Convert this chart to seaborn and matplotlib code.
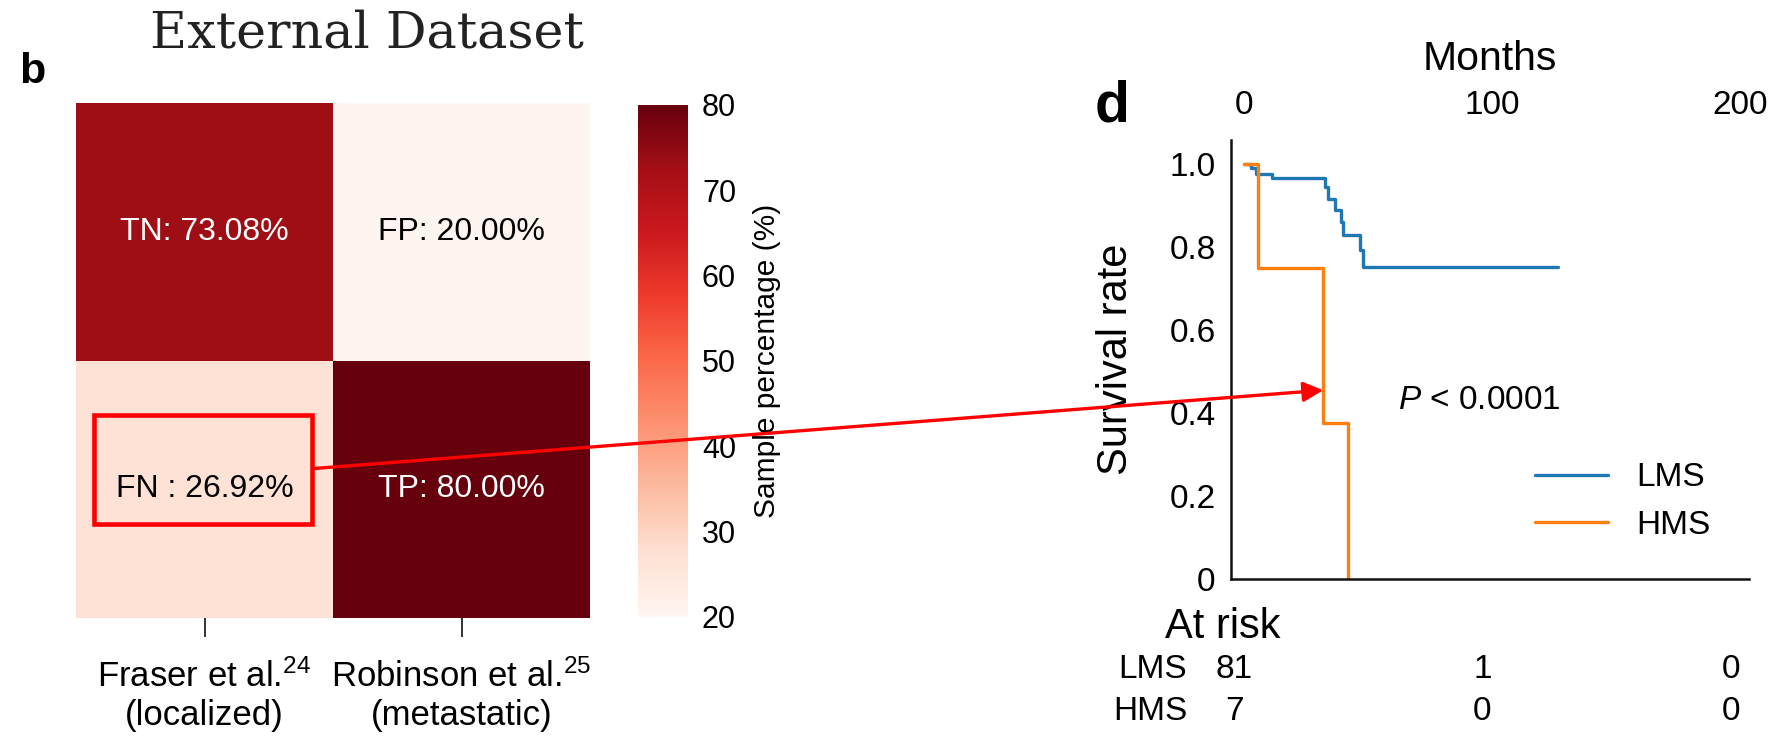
import numpy as np
import pandas as pd
import matplotlib
matplotlib.use("Agg")
import matplotlib.pyplot as plt
import matplotlib.transforms as mtransforms
from matplotlib.patches import Rectangle, ConnectionPatch
import seaborn as sns

# ---- confusion matrix (external dataset) ----
col_labels = ["Fraser et al.$^{\\mathregular{24}}$\n(localized)",
              "Robinson et al.$^{\\mathregular{25}}$\n(metastatic)"]
cell_names = [["TN:", "FP:"], ["FN :", "TP:"]]
cell_pct = [[73.08, 20.00], [26.92, 80.00]]
cbar_ticks = [20, 30, 40, 50, 60, 70, 80]

# ---- Kaplan-Meier curves ----
lms_months = [0, 2.5, 4.8, 11, 32.5, 33.8, 36.5, 38.9, 39.9, 46.6, 47.7, 126.5]
lms_surv = [1.0, 0.99, 0.977, 0.966, 0.944, 0.917, 0.889, 0.861, 0.829, 0.793, 0.753, 0.753]
hms_months = [0, 5.3, 31.8, 41.9]
hms_surv = [1.0, 0.75, 0.375, 0.0]
month_ticks = [0, 100, 200]
surv_ticks = [0, 0.2, 0.4, 0.6, 0.8, 1.0]
surv_ticklabels = ["0", "0.2", "0.4", "0.6", "0.8", "1.0"]
risk_groups = ["LMS", "HMS"]
risk_counts = [[81, 1, 0], [7, 0, 0]]
p_text = "$\\it{P}$ < 0.0001"

sns.set_theme(style="white")
plt.rcParams["font.family"] = ["Liberation Sans", "DejaVu Sans"]
plt.rcParams["mathtext.fontset"] = "custom"
plt.rcParams["mathtext.rm"] = "Liberation Sans"
plt.rcParams["mathtext.it"] = "Liberation Sans:italic"
plt.rcParams["mathtext.bf"] = "Liberation Sans:bold"
for key in ["text.color", "axes.labelcolor", "xtick.color", "ytick.color"]:
    plt.rcParams[key] = "black"

W, H = 1777, 741
fig = plt.figure(figsize=(W / 100, H / 100), dpi=100)


def fx(px):
    return px / W


def fy(py):
    return 1 - py / H


# ---------------- panel b: heatmap ----------------
ax_h = fig.add_axes([fx(76), fy(618), fx(590 - 76), (618 - 103) / H])
cax = fig.add_axes([fx(638), fy(617), fx(688 - 638), (617 - 105) / H])

mat = pd.DataFrame(cell_pct, columns=col_labels)
annot = np.array([[f"{n} {v:.2f}%" for n, v in zip(rn, rv)]
                  for rn, rv in zip(cell_names, cell_pct)])
sns.heatmap(mat, ax=ax_h, cbar_ax=cax, cmap="Reds", vmin=20, vmax=80,
            annot=annot, fmt="", annot_kws={"fontsize": 23},
            cbar_kws={"ticks": cbar_ticks})
# pure black / white cell labels
for txt in ax_h.texts:
    if txt.get_color() != "w":
        txt.set_color("black")
ax_h.set_yticks([])
ax_h.tick_params(axis="x", length=14, width=1.3, color="#222222",
                 labelsize=25, pad=16, rotation=0, bottom=True)
for lab in ax_h.get_xticklabels():
    lab.set_linespacing(1.2)

cbar = ax_h.collections[0].colorbar
cbar.outline.set_visible(False)
cbar.ax.tick_params(length=0, labelsize=22, pad=10)
cbar.set_label("Sample percentage (%)", fontsize=21.5, labelpad=12)

# highlight the false-negative cell
box = Rectangle((0.07, 1.21), 0.85, 0.425, fill=False, edgecolor="#ff0000",
                linewidth=3.3, zorder=5)
ax_h.add_patch(box)

fig.text(fx(367), fy(47), "External Dataset", family="DejaVu Serif",
         fontsize=36.5, ha="center", va="baseline", color="#222222")
fig.text(fx(19), fy(83), "b", fontsize=31, fontweight="bold", ha="left",
         va="baseline")

# ---------------- panel d: survival ----------------
ax_k = fig.add_axes([fx(1231), fy(579), fx(1749 - 1231), (579 - 140) / H])
km = pd.concat([
    pd.DataFrame({"Months": lms_months, "Survival": lms_surv, "Group": "LMS"}),
    pd.DataFrame({"Months": hms_months, "Survival": hms_surv, "Group": "HMS"}),
])
sns.lineplot(data=km, x="Months", y="Survival", hue="Group",
             palette={"LMS": "#1f77b4", "HMS": "#ff7f0e"},
             estimator=None, sort=False, drawstyle="steps-post",
             linewidth=2.4, ax=ax_k)

ax_k.set_xlim(-5.4, 203.4)
ax_k.set_ylim(0, 1.058)
ax_k.xaxis.tick_top()
ax_k.set_xticks(month_ticks)
ax_k.set_xticklabels([str(t) for t in month_ticks])
ax_k.set_yticks(surv_ticks)
ax_k.set_yticklabels(surv_ticklabels)
ax_k.tick_params(axis="both", length=0, labelsize=24)
ax_k.tick_params(axis="x", pad=14)
ax_k.tick_params(axis="y", pad=11)
ax_k.set_xlabel("")
ax_k.set_ylabel("")
for s in ["top", "right"]:
    ax_k.spines[s].set_visible(False)
for s in ["left", "bottom"]:
    ax_k.spines[s].set_color("#111111")
    ax_k.spines[s].set_linewidth(1.8)

leg = ax_k.legend(loc="center left", bbox_to_anchor=(0.587, 0.1765),
                  frameon=False, fontsize=24, handlelength=2.2,
                  handletextpad=0.85, labelspacing=0.5, borderpad=0,
                  borderaxespad=0)
for line in leg.get_lines():
    line.set_linewidth(2.4)

ax_k.text(94.6, 0.431, p_text, fontsize=24, ha="center", va="center")

fig.text(fx(1490), fy(59), "Months", fontsize=29.5, ha="center", va="center")
fig.text(fx(1116), fy(359), "Survival rate", fontsize=30, rotation=90,
         ha="center", va="center")
fig.text(fx(1095), fy(122), "d", fontsize=41, fontweight="bold", ha="left",
         va="baseline")

# number-at-risk table
fig.text(fx(1223), fy(627), "At risk", fontsize=30, ha="center", va="center")
row_y = [669, 712]
num_trans = mtransforms.offset_copy(
    mtransforms.blended_transform_factory(ax_k.transData, fig.transFigure),
    fig=fig, x=-10, y=0, units="dots")
for grp, counts, py in zip(risk_groups, risk_counts, row_y):
    fig.text(fx(1187), fy(py), grp, fontsize=24, ha="right", va="center")
    for t, c in zip(month_ticks, counts):
        fig.text(t, fy(py), str(c), fontsize=24, ha="center", va="center",
                 transform=num_trans)

# arrow linking the FN cell to the HMS drop
con = ConnectionPatch(xyA=(0.92, 1.42), coordsA=ax_h.transData,
                      xyB=(hms_months[2], 0.455), coordsB=ax_k.transData,
                      arrowstyle="-|>,head_length=0.6,head_width=0.3",
                      mutation_scale=20, color="#ff0000", linewidth=2.4,
                      zorder=10)
fig.add_artist(con)

fig.savefig("out.png", dpi=100)
